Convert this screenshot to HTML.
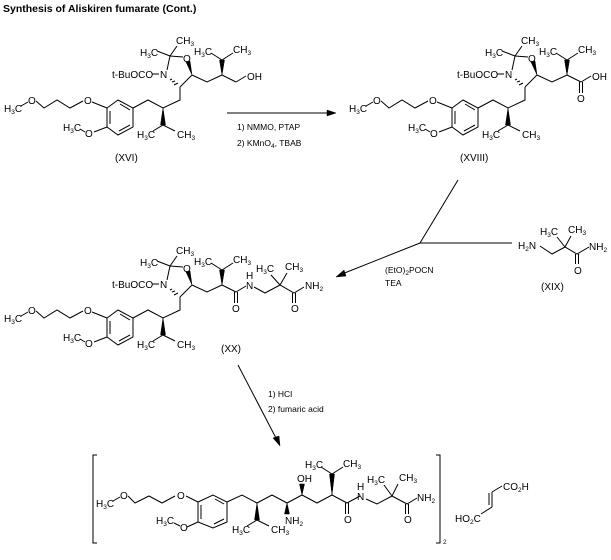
<!DOCTYPE html>
<html><head><meta charset="utf-8"><style>
html,body{margin:0;padding:0;background:#fff;}
svg{display:block;}
text{font-family:"Liberation Sans",sans-serif;font-size:10px;fill:#000;}
.s{font-size:6.5px;}
.r{font-size:8.5px;}
line,polyline,polygon{stroke:#000;stroke-width:1;fill:none;}
.w{fill:#000;stroke:#000;stroke-width:.5;}
</style></head><body>
<svg width="611" height="560" viewBox="0 0 611 560" xmlns="http://www.w3.org/2000/svg">
<defs>
<g id="core">
  <text x="4" y="112">H<tspan class="s" dy="2">3</tspan><tspan dy="-2">C</tspan></text>
  <line x1="21" y1="106" x2="28" y2="102"/>
  <text x="28" y="104">O</text>
  <polyline points="36,101 44,108 57,100 70,108 83,101"/>
  <text x="84" y="104">O</text>
  <line x1="92" y1="102" x2="107" y2="108"/>
  <polygon points="107,108 118,100 133,108 133,127 118,135 107,127"/>
  <line x1="110" y1="111" x2="110" y2="124"/>
  <line x1="119" y1="131" x2="130" y2="125"/>
  <line x1="120" y1="104" x2="130" y2="110"/>
  <line x1="107" y1="127" x2="94" y2="132"/>
  <text x="85" y="137">O</text>
  <line x1="85" y1="132" x2="80" y2="129"/>
  <text x="63" y="131">H<tspan class="s" dy="2">3</tspan><tspan dy="-2">C</tspan></text>
  <polyline points="133,108 148,100 163,108 180,100 180,87"/>
  <polygon class="w" points="163,108 160.5,125 165.5,125"/>
  <line x1="163" y1="125" x2="153" y2="131"/>
  <line x1="163" y1="125" x2="175" y2="131"/>
  <text x="137" y="138">H<tspan class="s" dy="2">3</tspan><tspan dy="-2">C</tspan></text>
  <text x="177" y="138">CH<tspan class="s" dy="2">3</tspan></text>
  <text x="112" y="78">t-BuOCO</text>
  <line x1="152" y1="74" x2="159" y2="74"/>
  <text x="160" y="78">N</text>
  <line x1="170" y1="80" x2="172" y2="79"/><line x1="172" y1="82" x2="175" y2="81"/><line x1="174" y1="85" x2="178" y2="83"/>
  <line x1="180" y1="87" x2="192" y2="75"/>
  <line x1="167" y1="70" x2="170" y2="56"/>
  <line x1="170" y1="56" x2="183" y2="57"/>
  <text x="183" y="62">O</text>
  <polygon class="w" points="192,75 186,62 190,61"/>
  <line x1="170" y1="56" x2="157" y2="51"/>
  <line x1="170" y1="56" x2="177" y2="46"/>
  <text x="140" y="56">H<tspan class="s" dy="2">3</tspan><tspan dy="-2">C</tspan></text>
  <text x="176" y="44">CH<tspan class="s" dy="2">3</tspan></text>
  <polyline points="192,75 207,82 222,75"/>
  <polygon class="w" points="222,75 219.5,60 224.5,60"/>
  <line x1="222" y1="60" x2="211" y2="53"/>
  <line x1="222" y1="60" x2="233" y2="53"/>
  <text x="194" y="55">H<tspan class="s" dy="2">3</tspan><tspan dy="-2">C</tspan></text>
  <text x="233" y="53">CH<tspan class="s" dy="2">3</tspan></text>
  <line x1="222" y1="75" x2="236" y2="82"/>
</g>
</defs>

<text x="3" y="12" style="font-weight:bold;font-size:10.5px">Synthesis of Aliskiren fumarate (Cont.)</text>

<use href="#core"/>
<line x1="236" y1="82" x2="246" y2="76"/>
<text x="247" y="80">OH</text>
<text x="115" y="161">(XVI)</text>

<line x1="227" y1="113" x2="330" y2="113"/>
<polygon class="w" points="336,113 327,110 327,116"/>
<text x="237" y="130" class="r">1) NMMO, PTAP</text>
<text x="237" y="146" class="r">2) KMnO<tspan class="s" dy="2">4</tspan><tspan dy="-2">, TBAB</tspan></text>

<g transform="translate(345,0)">
<use href="#core"/>
<line x1="236" y1="82" x2="246" y2="76"/>
<text x="247" y="80">OH</text>
<line x1="234.5" y1="82" x2="234.5" y2="93"/>
<line x1="237.5" y1="82" x2="237.5" y2="93"/>
<text x="232" y="102">O</text>
<text x="115" y="161">(XVIII)</text>
</g>

<line x1="458" y1="180" x2="420" y2="243"/>
<line x1="420" y1="243" x2="512" y2="243"/>
<line x1="420" y1="243" x2="342" y2="274"/>
<polygon class="w" points="336,277 344,270 346,276"/>
<text x="385" y="273" class="r">(EtO)<tspan class="s" dy="2">2</tspan><tspan dy="-2">POCN</tspan></text>
<text x="385" y="286" class="r">TEA</text>

<text x="518" y="249">H<tspan class="s" dy="2">2</tspan><tspan dy="-2">N</tspan></text>
<polyline points="540,246 552,254 565,247 577,254 589,247"/>
<line x1="565" y1="247" x2="557" y2="237"/>
<line x1="565" y1="247" x2="571" y2="236"/>
<text x="540" y="235">H<tspan class="s" dy="2">3</tspan><tspan dy="-2">C</tspan></text>
<text x="568" y="233">CH<tspan class="s" dy="2">3</tspan></text>
<line x1="575.5" y1="254" x2="575.5" y2="264"/>
<line x1="578.5" y1="254" x2="578.5" y2="264"/>
<text x="574" y="274">O</text>
<text x="589" y="250">NH<tspan class="s" dy="2">2</tspan></text>
<text x="541" y="290">(XIX)</text>

<g transform="translate(0,210)">
<use href="#core"/>
<line x1="234.5" y1="82" x2="234.5" y2="93"/>
<line x1="237.5" y1="82" x2="237.5" y2="93"/>
<text x="232" y="102">O</text>
<line x1="236" y1="82" x2="246" y2="76"/>
<text x="246" y="69">H</text>
<text x="246" y="79">N</text>
<polyline points="254,77 265,83 280,75 294,83 304,77"/>
<line x1="280" y1="75" x2="271" y2="65"/>
<line x1="280" y1="75" x2="287" y2="63"/>
<text x="256" y="62">H<tspan class="s" dy="2">3</tspan><tspan dy="-2">C</tspan></text>
<text x="285" y="60">CH<tspan class="s" dy="2">3</tspan></text>
<line x1="292.5" y1="83" x2="292.5" y2="93"/>
<line x1="295.5" y1="83" x2="295.5" y2="93"/>
<text x="291" y="102">O</text>
<text x="305" y="79">NH<tspan class="s" dy="2">2</tspan></text>
<text x="221" y="142">(XX)</text>
</g>

<line x1="238" y1="365" x2="277" y2="440"/>
<polygon class="w" points="280,446 273,438 279,436"/>
<text x="268" y="397" class="r">1) HCl</text>
<text x="268" y="412" class="r">2) fumaric acid</text>

<polyline points="97,455 93,455 93,543 97,543"/>
<polyline points="436,455 440,455 440,543 436,543"/>
<text x="443" y="544" class="s">2</text>
<text x="96" y="507">H<tspan class="s" dy="2">3</tspan><tspan dy="-2">C</tspan></text>
<line x1="113" y1="501" x2="120" y2="497"/>
<text x="120" y="499">O</text>
<polyline points="128,496 135,503 149,496 162,503 175,496"/>
<text x="177" y="499">O</text>
<line x1="186" y1="496" x2="198" y2="502"/>
<polygon points="198,502 213,495 227,502 227,522 213,528 198,522"/>
<line x1="201" y1="505" x2="201" y2="519"/>
<line x1="214" y1="524" x2="224" y2="519"/>
<line x1="215" y1="499" x2="224" y2="504"/>
<line x1="198" y1="522" x2="187" y2="527"/>
<text x="180" y="531">O</text>
<line x1="180" y1="526" x2="174" y2="523"/>
<text x="156" y="524">H<tspan class="s" dy="2">3</tspan><tspan dy="-2">C</tspan></text>
<polyline points="227,502 242,495 257,503 272,495 287,503 302,495 317,503 332,495 347,503 360,496"/>
<polygon class="w" points="257,503 254.5,520 259.5,520"/>
<line x1="257" y1="520" x2="247" y2="526"/>
<line x1="257" y1="520" x2="269" y2="526"/>
<text x="232" y="533">H<tspan class="s" dy="2">3</tspan><tspan dy="-2">C</tspan></text>
<text x="271" y="533">CH<tspan class="s" dy="2">3</tspan></text>
<polygon class="w" points="287,503 284.5,514 289.5,514"/>
<text x="285" y="524">NH<tspan class="s" dy="2">2</tspan></text>
<polygon class="w" points="302,495 299.5,484 304.5,484"/>
<text x="297" y="482">OH</text>
<polygon class="w" points="332,495 329.5,474 334.5,474"/>
<line x1="332" y1="474" x2="321" y2="467"/>
<line x1="332" y1="474" x2="343" y2="467"/>
<text x="305" y="468">H<tspan class="s" dy="2">3</tspan><tspan dy="-2">C</tspan></text>
<text x="343" y="467">CH<tspan class="s" dy="2">3</tspan></text>
<line x1="345.5" y1="503" x2="345.5" y2="514"/>
<line x1="348.5" y1="503" x2="348.5" y2="514"/>
<text x="344" y="523">O</text>
<text x="357" y="490">H</text>
<text x="357" y="500">N</text>
<polyline points="366,499 377,504 392,496 407,504 417,498"/>
<line x1="392" y1="496" x2="384" y2="485"/>
<line x1="392" y1="496" x2="398" y2="484"/>
<text x="367" y="483">H<tspan class="s" dy="2">3</tspan><tspan dy="-2">C</tspan></text>
<text x="399" y="481">CH<tspan class="s" dy="2">3</tspan></text>
<line x1="405.5" y1="504" x2="405.5" y2="514"/>
<line x1="408.5" y1="504" x2="408.5" y2="514"/>
<text x="404" y="523">O</text>
<text x="417" y="501">NH<tspan class="s" dy="2">2</tspan></text>

<text x="455" y="522">HO<tspan class="s" dy="2">2</tspan><tspan dy="-2">C</tspan></text>
<line x1="481" y1="514" x2="492" y2="507"/>
<line x1="492" y1="507" x2="492" y2="492"/>
<line x1="489" y1="505" x2="489" y2="493"/>
<line x1="492" y1="492" x2="502" y2="486"/>
<text x="503" y="490">CO<tspan class="s" dy="2">2</tspan><tspan dy="-2">H</tspan></text>
</svg>
</body></html>
